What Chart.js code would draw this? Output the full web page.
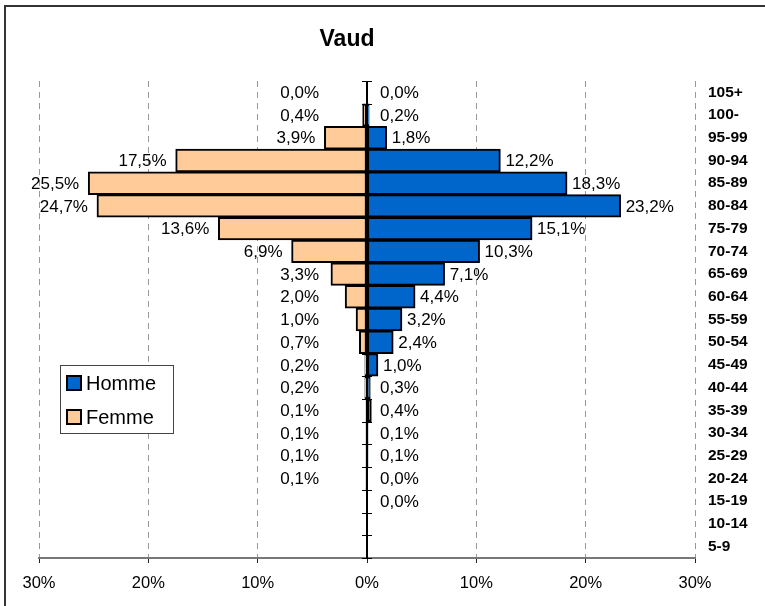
<!DOCTYPE html>
<html>
<head>
<meta charset="utf-8">
<script src="https://cdn.jsdelivr.net/npm/chart.js@4/dist/chart.umd.min.js"></script>
<style>
html,body{margin:0;padding:0;background:#fff;}
canvas{display:block;}
</style>
</head>
<body>
<canvas id="c" width="765" height="606"></canvas>
<script>
const title = 'Vaud';
const categories = ['105+','100-','95-99','90-94','85-89','80-84','75-79','70-74','65-69','60-64','55-59','50-54','45-49','40-44','35-39','30-34','25-29','20-24','15-19','10-14','5-9'];
const homme = [0.0,0.2,1.8,12.2,18.3,23.2,15.1,10.3,7.1,4.4,3.2,2.4,1.0,0.3,0.4,0.1,0.1,0.0,0.0,null,null];
const femme = [0.0,0.4,3.9,17.5,25.5,24.7,13.6,6.9,3.3,2.0,1.0,0.7,0.2,0.2,0.1,0.1,0.1,0.1,null,null,null];
const xMin = -30, xMax = 30, xStep = 10;

const FONT = 'Arial, "Liberation Sans", sans-serif';
const fmt = v => v.toFixed(1).replace('.', ',') + '%';

const framePlugin = {
  id: 'frame',
  beforeDraw(chart) {
    const c = chart.ctx;
    c.save();
    c.fillStyle = '#fff';
    c.fillRect(0, 0, chart.width, chart.height);
    c.strokeStyle = '#333';
    c.lineWidth = 2;
    c.beginPath();
    c.moveTo(5, chart.height);
    c.lineTo(5, 6);
    c.lineTo(chart.width, 6);
    c.stroke();
    c.restore();
  },
  afterDraw(chart) {
    const c = chart.ctx;
    c.save();
    c.fillStyle = '#000';
    c.font = 'bold 23px ' + FONT;
    c.textAlign = 'center';
    c.textBaseline = 'middle';
    c.fillText(title, 347, 40);
    c.fillStyle = '#fff';
    c.fillRect(60.5, 365.5, 113, 68);
    c.strokeStyle = '#444';
    c.lineWidth = 1;
    c.strokeRect(60.5, 365.5, 113, 68);
    const items = chart.data.datasets;
    const ys = [383, 417];
    items.forEach((ds, i) => {
      const y = ys[i];
      c.fillStyle = ds.backgroundColor;
      c.fillRect(67, y - 7, 14, 14);
      c.strokeStyle = '#000';
      c.lineWidth = 2;
      c.strokeRect(67, y - 7, 14, 14);
      c.fillStyle = '#000';
      c.font = '20px ' + FONT;
      c.textAlign = 'left';
      c.textBaseline = 'middle';
      c.fillText(ds.label, 86, y + 1);
    });
    c.restore();
  }
};

const axisLabelPlugin = {
  id: 'axisLabels',
  afterDatasetsDraw(chart) {
    const c = chart.ctx;
    const xs = chart.scales.x, ys = chart.scales.y;
    const area = chart.chartArea;
    const x0 = xs.getPixelForValue(0);
    c.save();
    c.strokeStyle = '#000';
    c.lineWidth = 2;
    c.beginPath();
    c.moveTo(x0, area.top);
    c.lineTo(x0, area.bottom);
    c.stroke();
    const step = (area.bottom - area.top) / categories.length;
    c.lineWidth = 1;
    c.beginPath();
    for (let k = 0; k <= categories.length; k++) {
      const y = Math.round(area.top + k * step) + 0.5;
      c.moveTo(x0 - 5, y);
      c.lineTo(x0 + 5, y);
    }
    c.stroke();
    c.fillStyle = '#000';
    c.font = '17px ' + FONT;
    c.textBaseline = 'middle';
    categories.forEach((cat, i) => {
      const y = ys.getPixelForValue(i) + 1;
      const f = femme[i];
      if (f !== null && f !== undefined) {
        const end = xs.getPixelForValue(-f);
        c.textAlign = 'right';
        c.fillText(fmt(f), Math.min(end - 9, x0 - 48), y);
      }
      const h = homme[i];
      if (h !== null && h !== undefined) {
        const end = xs.getPixelForValue(h);
        c.textAlign = 'left';
        c.fillText(fmt(h), Math.max(end + 5, x0 + 13), y);
      }
    });
    c.restore();
  }
};

new Chart(document.getElementById('c'), {
  type: 'bar',
  data: {
    labels: categories,
    datasets: [
      {
        label: 'Homme',
        data: homme,
        backgroundColor: '#0066CC',
        borderColor: '#000',
        borderWidth: 2,
        borderSkipped: false,
        barPercentage: 1,
        categoryPercentage: 1
      },
      {
        label: 'Femme',
        data: femme.map(v => v === null ? null : -v),
        backgroundColor: '#FFCC99',
        borderColor: '#000',
        borderWidth: 2,
        borderSkipped: false,
        barPercentage: 1,
        categoryPercentage: 1
      }
    ]
  },
  options: {
    indexAxis: 'y',
    responsive: false,
    animation: false,
    layout: { padding: { left: 39, top: 81, right: 0, bottom: 0 } },
    plugins: {
      legend: { display: false },
      title: { display: false },
      tooltip: { enabled: false }
    },
    scales: {
      x: {
        type: 'linear',
        stacked: true,
        min: xMin,
        max: xMax,
        afterFit(scale) { scale.height = 48; },
        ticks: {
          stepSize: xStep,
          padding: 11,
          color: '#000',
          font: { family: FONT, size: 16.5 },
          callback: v => Math.abs(v) + '%'
        },
        grid: {
          color: ctx => (ctx.tick && ctx.tick.value === 0) ? 'rgba(0,0,0,0)' : '#999',
          lineWidth: 1,
          tickLength: 5,
          tickColor: '#222',
          tickWidth: 1
        },
        border: { display: true, color: '#777', width: 2, dash: [6, 5] }
      },
      y: {
        type: 'category',
        position: 'right',
        stacked: true,
        afterFit(scale) { scale.width = 70; },
        grid: { display: false, drawTicks: false },
        border: { display: false },
        ticks: {
          padding: 13,
          color: '#000',
          font: { family: FONT, size: 15.5, weight: 'bold' },
          autoSkip: false
        }
      }
    }
  },
  plugins: [framePlugin, axisLabelPlugin]
});
</script>
</body>
</html>
